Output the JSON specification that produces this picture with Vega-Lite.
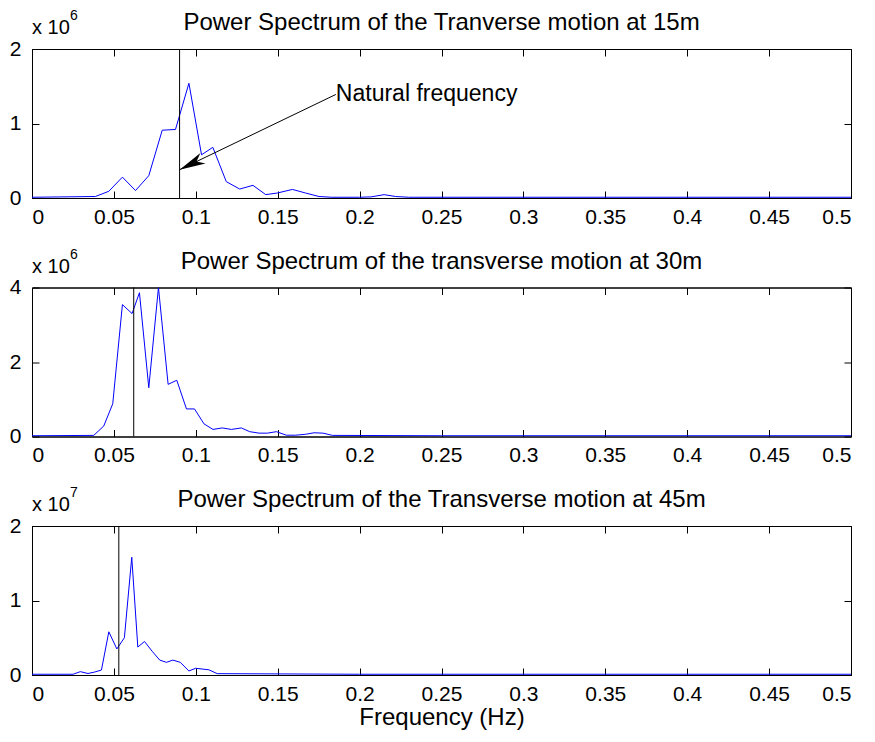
{
  "$schema": "https://vega.github.io/schema/vega-lite/v6.json",
  "background": "white",
  "padding": {"left": 8, "top": 8, "right": 5, "bottom": 5},
  "spacing": 89.5,
  "bounds": "flush",
  "config": {
    "font": "Liberation Sans",
    "view": {"stroke": "black", "strokeWidth": 1},
    "axis": {
      "labelFont": "Liberation Sans", "labelFontSize": 21, "labelColor": "black",
      "titleFont": "Liberation Sans", "titleFontSize": 24, "titleFontWeight": "normal", "titleColor": "black",
      "domainColor": "black", "tickColor": "black", "grid": false, "tickSize": -7, "labelPadding": 15
    }
  },
  "datasets": {
    "p1": [
      {"f": 0, "p": 0.01}, {"f": 0.0387, "p": 0.02}, {"f": 0.0469, "p": 0.09}, {"f": 0.0552, "p": 0.28},
      {"f": 0.0632, "p": 0.10}, {"f": 0.0713, "p": 0.30}, {"f": 0.0795, "p": 0.91}, {"f": 0.0876, "p": 0.92},
      {"f": 0.0958, "p": 1.54}, {"f": 0.1035, "p": 0.58}, {"f": 0.1104, "p": 0.68}, {"f": 0.1186, "p": 0.22},
      {"f": 0.1268, "p": 0.12}, {"f": 0.1349, "p": 0.17}, {"f": 0.1427, "p": 0.045}, {"f": 0.1498, "p": 0.067},
      {"f": 0.159, "p": 0.115}, {"f": 0.167, "p": 0.067}, {"f": 0.1752, "p": 0.02}, {"f": 0.183, "p": 0.01},
      {"f": 0.2, "p": 0.01}, {"f": 0.207, "p": 0.015}, {"f": 0.215, "p": 0.045}, {"f": 0.222, "p": 0.02},
      {"f": 0.23, "p": 0.01}, {"f": 0.3, "p": 0.01}, {"f": 0.4, "p": 0.01}, {"f": 0.5, "p": 0.01}
    ],
    "p2": [
      {"f": 0, "p": 0.02}, {"f": 0.0377, "p": 0.03}, {"f": 0.0438, "p": 0.28}, {"f": 0.0493, "p": 0.88},
      {"f": 0.0552, "p": 3.54}, {"f": 0.0611, "p": 3.30}, {"f": 0.0656, "p": 3.86}, {"f": 0.0713, "p": 1.31},
      {"f": 0.0772, "p": 4.0}, {"f": 0.0831, "p": 1.40}, {"f": 0.0884, "p": 1.51}, {"f": 0.0943, "p": 0.74},
      {"f": 0.0992, "p": 0.74}, {"f": 0.105, "p": 0.34}, {"f": 0.1105, "p": 0.19}, {"f": 0.1161, "p": 0.23},
      {"f": 0.1217, "p": 0.19}, {"f": 0.1278, "p": 0.23}, {"f": 0.1329, "p": 0.13}, {"f": 0.1386, "p": 0.09},
      {"f": 0.1437, "p": 0.09}, {"f": 0.1492, "p": 0.13}, {"f": 0.1553, "p": 0.035}, {"f": 0.161, "p": 0.035},
      {"f": 0.1671, "p": 0.06}, {"f": 0.1722, "p": 0.10}, {"f": 0.1777, "p": 0.09}, {"f": 0.1834, "p": 0.03},
      {"f": 0.25, "p": 0.02}, {"f": 0.35, "p": 0.02}, {"f": 0.5, "p": 0.02}
    ],
    "p3": [
      {"f": 0, "p": 0.01}, {"f": 0.0251, "p": 0.01}, {"f": 0.0295, "p": 0.045}, {"f": 0.0342, "p": 0.02},
      {"f": 0.0383, "p": 0.04}, {"f": 0.0424, "p": 0.067}, {"f": 0.0469, "p": 0.58}, {"f": 0.0518, "p": 0.35},
      {"f": 0.0564, "p": 0.50}, {"f": 0.0609, "p": 1.58}, {"f": 0.0646, "p": 0.375}, {"f": 0.0687, "p": 0.45},
      {"f": 0.0733, "p": 0.32}, {"f": 0.078, "p": 0.2}, {"f": 0.0821, "p": 0.17}, {"f": 0.086, "p": 0.2},
      {"f": 0.0905, "p": 0.17}, {"f": 0.0958, "p": 0.054}, {"f": 0.0999, "p": 0.09}, {"f": 0.108, "p": 0.07},
      {"f": 0.1131, "p": 0.018}, {"f": 0.2, "p": 0.01}, {"f": 0.35, "p": 0.01}, {"f": 0.5, "p": 0.01}
    ],
    "arrow": [{"f": 0.1855, "p": 1.39}, {"f": 0.0901, "p": 0.38}],
    "tip": [{"f": 0.0901, "p": 0.38}],
    "frame1": [{"f": 0, "p": 0}, {"f": 0.5, "p": 2}],
    "frame2": [{"f": 0, "p": 0}, {"f": 0.5, "p": 4}],
    "t1": [{"t": "Power Spectrum of the Tranverse motion at 15m"}],
    "t2": [{"t": "Power Spectrum of the transverse motion at 30m"}],
    "t3": [{"t": "Power Spectrum of the Transverse motion at 45m"}],
    "one": [{"k": 1}]
  },
  "vconcat": [
    {
      "width": 819, "height": 149,
      "resolve": {"scale": {"x": "independent", "y": "independent"}},
      "layer": [
        {
          "layer": [
            {
              "data": {"name": "p1"},
              "mark": {"type": "line", "color": "#0000ff", "strokeWidth": 1, "clip": true},
              "encoding": {
                "x": {"field": "f", "type": "quantitative", "scale": {"domain": [0, 0.5], "nice": false},
                      "axis": {"orient": "bottom", "values": [0, 0.05, 0.1, 0.15, 0.2, 0.25, 0.3, 0.35, 0.4, 0.45, 0.5], "format": "~g", "title": null}},
                "y": {"field": "p", "type": "quantitative", "scale": {"domain": [0, 2], "nice": false},
                      "axis": {"orient": "left", "values": [0, 1, 2], "format": "~g", "title": null, "labelPadding": 18}}
              }
            },
            {"data": {"name": "one"}, "mark": {"type": "rule", "color": "black", "strokeWidth": 1}, "encoding": {"x": {"datum": 0.0901}}},
            {"data": {"name": "arrow"}, "mark": {"type": "line", "color": "black", "strokeWidth": 1},
             "encoding": {"x": {"field": "f", "type": "quantitative"}, "y": {"field": "p", "type": "quantitative"}}},
            {"data": {"name": "tip"}, "mark": {"type": "point", "shape": "M0,0L-0.45,2L0,1.45L0.45,2Z", "filled": true, "color": "black", "opacity": 1, "size": 676, "angle": 244},
             "encoding": {"x": {"field": "f", "type": "quantitative"}, "y": {"field": "p", "type": "quantitative"}}},
            {"data": {"values": [{"f": 0.1855, "p": 1.39, "t": "Natural frequency"}]},
             "mark": {"type": "text", "align": "left", "baseline": "middle", "fontSize": 23, "color": "black", "dx": 0, "dy": 0},
             "encoding": {"x": {"field": "f", "type": "quantitative"}, "y": {"field": "p", "type": "quantitative"}, "text": {"field": "t"}}},
            {"data": {"name": "t1"}, "mark": {"type": "text", "align": "center", "baseline": "middle", "fontSize": 24, "color": "black", "dy": -26},
             "encoding": {"x": {"datum": 0.25}, "y": {"datum": 2}, "text": {"field": "t"}}},
            {"data": {"name": "one"}, "mark": {"type": "text", "text": "x 10", "align": "left", "baseline": "middle", "fontSize": 20, "color": "black", "dy": -21},
             "encoding": {"x": {"datum": 0}, "y": {"datum": 2}}},
            {"data": {"name": "one"}, "mark": {"type": "text", "text": "6", "align": "left", "baseline": "middle", "fontSize": 14, "color": "black", "dx": 38, "dy": -33},
             "encoding": {"x": {"datum": 0}, "y": {"datum": 2}}}
          ]
        },
        {
          "data": {"name": "frame1"},
          "mark": {"type": "point", "opacity": 0},
          "encoding": {
            "x": {"field": "f", "type": "quantitative", "scale": {"domain": [0, 0.5], "nice": false},
                  "axis": {"orient": "top", "values": [0, 0.05, 0.1, 0.15, 0.2, 0.25, 0.3, 0.35, 0.4, 0.45, 0.5], "labels": false, "title": null}},
            "y": {"field": "p", "type": "quantitative", "scale": {"domain": [0, 2], "nice": false},
                  "axis": {"orient": "right", "values": [0, 1, 2], "labels": false, "title": null}}
          }
        }
      ]
    },
    {
      "width": 819, "height": 149,
      "resolve": {"scale": {"x": "independent", "y": "independent"}},
      "layer": [
        {
          "layer": [
            {
              "data": {"name": "p2"},
              "mark": {"type": "line", "color": "#0000ff", "strokeWidth": 1, "clip": true},
              "encoding": {
                "x": {"field": "f", "type": "quantitative", "scale": {"domain": [0, 0.5], "nice": false},
                      "axis": {"orient": "bottom", "values": [0, 0.05, 0.1, 0.15, 0.2, 0.25, 0.3, 0.35, 0.4, 0.45, 0.5], "format": "~g", "title": null}},
                "y": {"field": "p", "type": "quantitative", "scale": {"domain": [0, 4], "nice": false},
                      "axis": {"orient": "left", "values": [0, 2, 4], "format": "~g", "title": null, "labelPadding": 18}}
              }
            },
            {"data": {"name": "one"}, "mark": {"type": "rule", "color": "black", "strokeWidth": 1}, "encoding": {"x": {"datum": 0.0621}}},
            {"data": {"name": "t2"}, "mark": {"type": "text", "align": "center", "baseline": "middle", "fontSize": 24, "color": "black", "dy": -26},
             "encoding": {"x": {"datum": 0.25}, "y": {"datum": 4}, "text": {"field": "t"}}},
            {"data": {"name": "one"}, "mark": {"type": "text", "text": "x 10", "align": "left", "baseline": "middle", "fontSize": 20, "color": "black", "dy": -21},
             "encoding": {"x": {"datum": 0}, "y": {"datum": 4}}},
            {"data": {"name": "one"}, "mark": {"type": "text", "text": "6", "align": "left", "baseline": "middle", "fontSize": 14, "color": "black", "dx": 38, "dy": -33},
             "encoding": {"x": {"datum": 0}, "y": {"datum": 4}}}
          ]
        },
        {
          "data": {"name": "frame2"},
          "mark": {"type": "point", "opacity": 0},
          "encoding": {
            "x": {"field": "f", "type": "quantitative", "scale": {"domain": [0, 0.5], "nice": false},
                  "axis": {"orient": "top", "values": [0, 0.05, 0.1, 0.15, 0.2, 0.25, 0.3, 0.35, 0.4, 0.45, 0.5], "labels": false, "title": null}},
            "y": {"field": "p", "type": "quantitative", "scale": {"domain": [0, 4], "nice": false},
                  "axis": {"orient": "right", "values": [0, 2, 4], "labels": false, "title": null}}
          }
        }
      ]
    },
    {
      "width": 819, "height": 149,
      "resolve": {"scale": {"x": "independent", "y": "independent"}},
      "layer": [
        {
          "layer": [
            {
              "data": {"name": "p3"},
              "mark": {"type": "line", "color": "#0000ff", "strokeWidth": 1, "clip": true},
              "encoding": {
                "x": {"field": "f", "type": "quantitative", "scale": {"domain": [0, 0.5], "nice": false},
                      "axis": {"orient": "bottom", "values": [0, 0.05, 0.1, 0.15, 0.2, 0.25, 0.3, 0.35, 0.4, 0.45, 0.5], "format": "~g", "title": "Frequency (Hz)", "titlePadding": 1}},
                "y": {"field": "p", "type": "quantitative", "scale": {"domain": [0, 2], "nice": false},
                      "axis": {"orient": "left", "values": [0, 1, 2], "format": "~g", "title": null, "labelPadding": 18}}
              }
            },
            {"data": {"name": "one"}, "mark": {"type": "rule", "color": "black", "strokeWidth": 1}, "encoding": {"x": {"datum": 0.053}}},
            {"data": {"name": "t3"}, "mark": {"type": "text", "align": "center", "baseline": "middle", "fontSize": 24, "color": "black", "dy": -26},
             "encoding": {"x": {"datum": 0.25}, "y": {"datum": 2}, "text": {"field": "t"}}},
            {"data": {"name": "one"}, "mark": {"type": "text", "text": "x 10", "align": "left", "baseline": "middle", "fontSize": 20, "color": "black", "dy": -21},
             "encoding": {"x": {"datum": 0}, "y": {"datum": 2}}},
            {"data": {"name": "one"}, "mark": {"type": "text", "text": "7", "align": "left", "baseline": "middle", "fontSize": 14, "color": "black", "dx": 38, "dy": -33},
             "encoding": {"x": {"datum": 0}, "y": {"datum": 2}}}
          ]
        },
        {
          "data": {"name": "frame1"},
          "mark": {"type": "point", "opacity": 0},
          "encoding": {
            "x": {"field": "f", "type": "quantitative", "scale": {"domain": [0, 0.5], "nice": false},
                  "axis": {"orient": "top", "values": [0, 0.05, 0.1, 0.15, 0.2, 0.25, 0.3, 0.35, 0.4, 0.45, 0.5], "labels": false, "title": null}},
            "y": {"field": "p", "type": "quantitative", "scale": {"domain": [0, 2], "nice": false},
                  "axis": {"orient": "right", "values": [0, 1, 2], "labels": false, "title": null}}
          }
        }
      ]
    }
  ]
}
